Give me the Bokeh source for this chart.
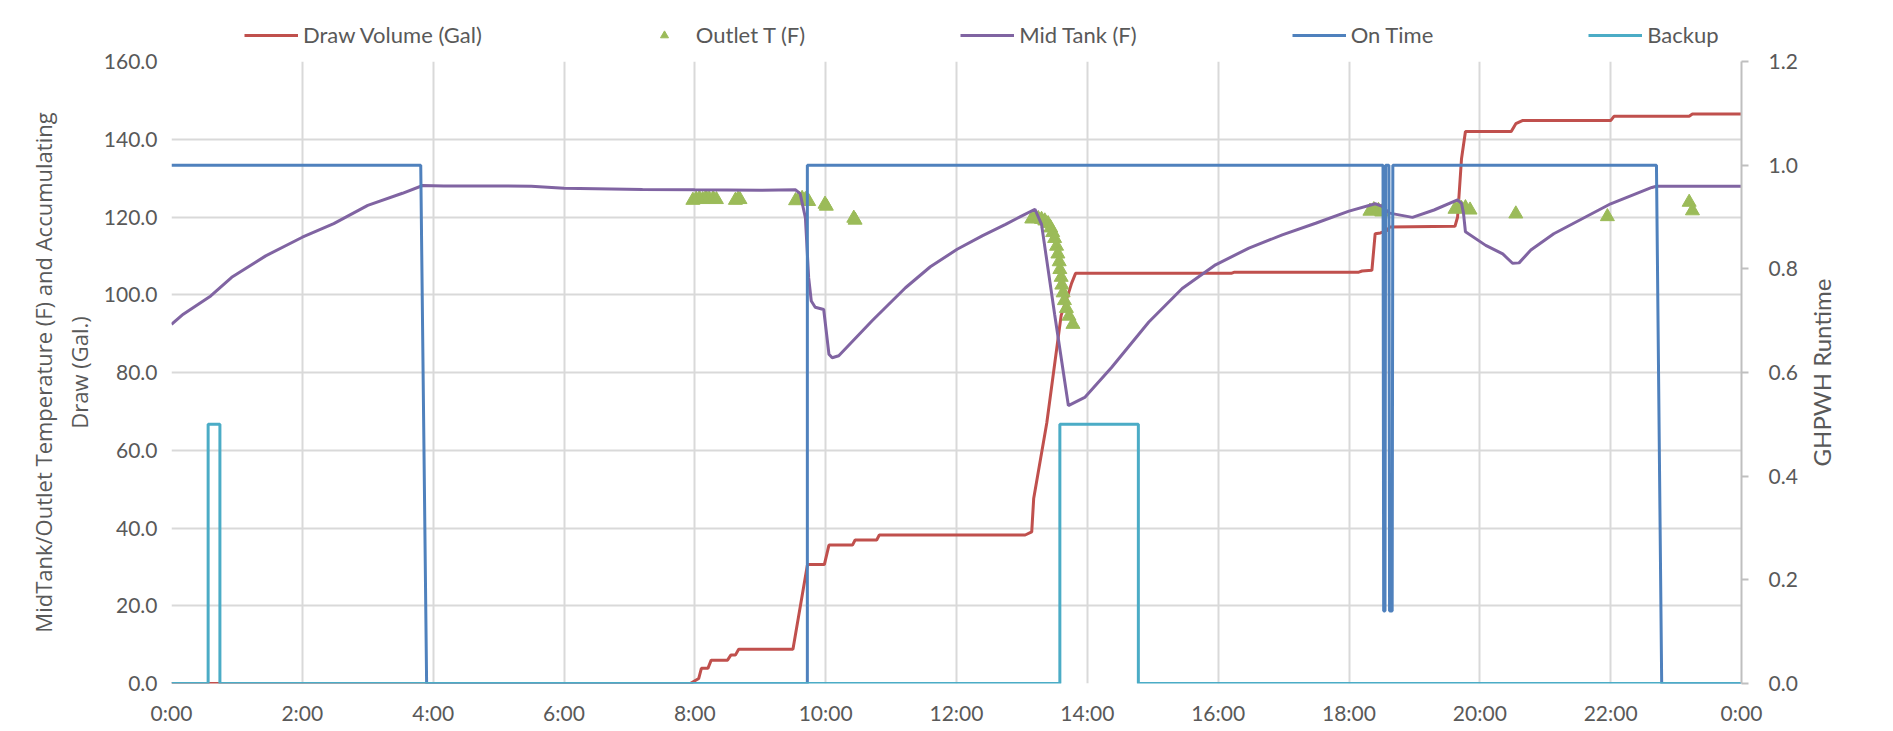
from bokeh.plotting import figure
from bokeh.layouts import column, row
from bokeh.models import (Range1d, LinearAxis, FixedTicker, NumeralTickFormatter,
                          Legend, LegendItem)
from bokeh.embed import file_html
from bokeh.resources import INLINE

# ---------------- data (hours of day) ----------------
draw_t = [0, 7.93, 8.06, 8.1, 8.2, 8.25, 8.5, 8.55, 8.62, 8.67, 9.5, 9.72, 9.74, 9.98,
          10.05, 10.41, 10.45, 10.78, 10.82, 13.05, 13.15, 13.18, 13.38, 13.6, 13.71,
          13.76, 13.82, 16.2, 16.25, 18.15, 18.2, 18.35, 18.4, 18.48, 18.58, 18.62,
          19.62, 19.66, 19.72, 19.78, 20.48, 20.55, 20.65, 22.0, 22.05, 23.2, 23.25, 24.0]
draw_v = [0, 0, 1.3, 3.9, 3.9, 6.0, 6.0, 7.3, 7.3, 8.8, 8.8, 30.4, 30.6, 30.6,
          35.6, 35.6, 36.9, 36.9, 38.2, 38.2, 39.0, 47.6, 67.0, 94.7, 100.3,
          103.0, 105.5, 105.5, 105.8, 105.8, 106.1, 106.3, 115.7, 115.9, 116.5, 117.4,
          117.6, 120.0, 135.0, 142.0, 142.0, 144.0, 144.8, 144.8, 145.9, 145.9, 146.5, 146.5]

outlet_t = [7.97, 8.02, 8.07, 8.12, 8.17, 8.22, 8.28, 8.33, 8.62, 8.66, 8.69,
            9.54, 9.59, 9.64, 9.69, 9.74, 9.99, 10.01, 10.43, 10.45,
            13.15, 13.2, 13.25, 13.3, 13.35, 13.4, 13.44, 13.47, 13.5, 13.53, 13.55,
            13.57, 13.58, 13.6, 13.61, 13.63, 13.65, 13.68, 13.72, 13.78,
            18.32, 18.38, 18.45, 18.5, 19.62, 19.68, 19.72, 19.78, 19.85,
            20.55, 21.95, 23.2, 23.25]
outlet_v = [124.3, 124.6, 124.8, 124.5, 125.0, 124.7, 124.8, 124.5, 124.3, 124.6, 124.5,
            124.2, 124.6, 124.8, 124.5, 124.0, 123.3, 122.8, 119.7, 119.2,
            119.5, 119.8, 119.6, 119.4, 119.0, 118.3, 117.2, 116.0, 114.5, 112.5, 110.5,
            108.5, 106.5, 104.5, 102.5, 100.5, 98.5, 96.5, 94.5, 92.4,
            121.5, 121.9, 121.7, 121.3, 122.0, 122.6, 122.2, 122.4, 121.8,
            120.8, 120.1, 123.8, 121.6]

mid_t = [0, 0.18, 0.6, 0.92, 1.44, 2.0, 2.48, 3.0, 3.53, 3.84, 4.16, 5.0, 5.5, 6.0,
         7.2, 8.0, 9.0, 9.54, 9.61, 9.69, 9.74, 9.78, 9.84, 9.97, 10.05, 10.1, 10.2,
         10.71, 11.22, 11.6, 12.01, 12.4, 12.75, 13.0, 13.2, 13.3, 13.5, 13.71, 13.96,
         14.37, 14.94, 15.45, 15.96, 16.47, 16.98, 17.49, 18.0, 18.4, 18.5, 18.62,
         18.97, 19.3, 19.66, 19.72, 19.75, 19.78, 20.09, 20.35, 20.5, 20.6, 20.78,
         21.13, 22.0, 22.63, 22.7, 24.0]
mid_v = [92.4, 95.0, 99.7, 104.5, 110.0, 114.8, 118.3, 123.0, 126.1, 128.1, 128.0, 128.0,
         127.9, 127.4, 127.1, 127.0, 126.9, 127.0, 126.0, 119.8, 104.4, 98.4, 96.8, 96.2,
         84.7, 83.8, 84.3, 93.3, 101.8, 107.2, 111.7, 115.2, 118.1, 120.3, 122.0, 118.1,
         95.0, 71.5, 73.6, 81.3, 93.0, 101.6, 107.7, 112.0, 115.4, 118.4, 121.5, 123.4,
         122.8, 121.0, 119.9, 121.8, 124.4, 123.5, 121.0, 116.2, 112.7, 110.5, 108.1,
         108.2, 111.5, 115.7, 123.4, 127.6, 127.9, 127.9]

on_t = [0, 3.81, 3.9, 9.72, 9.72, 18.52, 18.53, 18.55, 18.56, 18.61, 18.62, 18.66,
        18.67, 22.7, 22.78, 24.0]
on_v = [1, 1, 0, 0, 1, 1, 0.14, 0.14, 1, 1, 0.14, 0.14, 1, 1, 0, 0]

backup_t = [0, 0.56, 0.56, 0.74, 0.74, 13.58, 13.58, 14.78, 14.78, 24.0]
backup_v = [0, 0, 0.5, 0.5, 0, 0, 0.5, 0.5, 0, 0]

x_ticks = [0, 2, 4, 6, 8, 10, 12, 14, 16, 18, 20, 22, 24]
x_tick_labels = ["0:00", "2:00", "4:00", "6:00", "8:00", "10:00", "12:00", "14:00",
                 "16:00", "18:00", "20:00", "22:00", "0:00"]
y_ticks = [0, 20, 40, 60, 80, 100, 120, 140, 160]
rt_ticks = [0, 0.2, 0.4, 0.6, 0.8, 1.0, 1.2]

labels = ["Draw Volume (Gal)", "Outlet T (F)", "Mid Tank (F)", "On Time", "Backup"]
colors = ["#C0504D", "#9BBB59", "#8064A2", "#4F81BD", "#4BACC6"]
y_title_1 = "MidTank/Outlet Temperature (F) and Accumulating"
y_title_2 = "Draw (Gal.)"
y2_title = "GHPWH Runtime"

TICK_COLOR = "#595959"
GRID = "#D9D9D9"
W = 1877
LEG_H = 48
MAIN_H = 681
MAIN_W = 1801
STRIP_W = W - MAIN_W


def bare_axis(ax):
    ax.axis_line_color = None
    ax.major_tick_line_color = None
    ax.minor_tick_line_color = None
    ax.major_tick_out = 0
    ax.major_tick_in = 0
    ax.minor_tick_out = 0
    ax.minor_tick_in = 0


def style_title(ax, font, size):
    ax.axis_label_text_font = font
    ax.axis_label_text_font_size = size
    ax.axis_label_text_font_style = "normal"
    ax.axis_label_text_color = TICK_COLOR
    ax.axis_label_text_line_height = 1.0


# ---------------- main figure ----------------
p = figure(width=MAIN_W, height=MAIN_H, output_backend="svg", toolbar_location=None,
           x_range=Range1d(0, 24), y_range=Range1d(0, 160),
           min_border_left=171, min_border_right=60, min_border_top=13,
           min_border_bottom=46)
p.extra_y_ranges = {"rt": Range1d(0, 1.2)}
p.outline_line_color = None
p.background_fill_color = "white"
p.border_fill_color = "white"

p.xaxis.ticker = FixedTicker(ticks=x_ticks)
p.xaxis.major_label_overrides = {float(t): l for t, l in zip(x_ticks, x_tick_labels)}
p.yaxis.ticker = FixedTicker(ticks=y_ticks)
p.yaxis.formatter = NumeralTickFormatter(format="0.0")
for ax in [p.xaxis[0], p.yaxis[0]]:
    bare_axis(ax)
    ax.major_label_text_font = "Lato"
    ax.major_label_text_font_size = "21px"
    ax.major_label_text_color = TICK_COLOR
p.xaxis.major_label_standoff = 16
p.yaxis.major_label_standoff = 14

# inner title line (next to the tick labels)
p.yaxis.axis_label = y_title_2
style_title(p.yaxis[0], "Open Sans", "22px")
p.yaxis.axis_label_standoff = 7

# outer title line: a label-only axis
outer = LinearAxis(ticker=FixedTicker(ticks=[]), axis_label=y_title_1)
bare_axis(outer)
outer.major_label_standoff = 0
outer.major_label_text_font_size = "0px"
style_title(outer, "Open Sans", "22px")
outer.axis_label_standoff = 3
p.add_layout(outer, "left")

rax = LinearAxis(y_range_name="rt", ticker=FixedTicker(ticks=rt_ticks),
                 formatter=NumeralTickFormatter(format="0.0"))
rax.axis_line_color = "#BFBFBF"
rax.axis_line_width = 2
rax.major_tick_line_color = "#BFBFBF"
rax.major_tick_line_width = 2
rax.major_tick_in = 0
rax.major_tick_out = 7
rax.minor_tick_line_color = None
rax.minor_tick_out = 0
rax.minor_tick_in = 0
rax.major_label_text_font = "Lato"
rax.major_label_text_font_size = "21px"
rax.major_label_text_color = TICK_COLOR
rax.major_label_standoff = 20
p.add_layout(rax, "right")

p.xgrid.ticker = FixedTicker(ticks=x_ticks)
p.ygrid.ticker = FixedTicker(ticks=y_ticks)
for g in [p.xgrid[0], p.ygrid[0]]:
    g.grid_line_color = GRID
    g.grid_line_width = 2

p.line(draw_t, draw_v, line_color=colors[0], line_width=3)
p.scatter(outlet_t, outlet_v, marker="triangle", size=14,
          fill_color=colors[1], line_color=colors[1])
p.line(mid_t, mid_v, line_color=colors[2], line_width=3)
p.line(on_t, on_v, line_color=colors[3], line_width=3, y_range_name="rt")
p.line(backup_t, backup_v, line_color=colors[4], line_width=3, y_range_name="rt")

# ---------------- right title strip (reads bottom-to-top like the original) -------
strip = figure(width=STRIP_W, height=MAIN_H, output_backend="svg",
               toolbar_location=None, x_range=Range1d(0, 1), y_range=Range1d(0, 1.2),
               min_border_left=34, min_border_right=0, min_border_top=13,
               min_border_bottom=46, x_axis_location=None, y_axis_location=None)
strip.grid.visible = False
strip.outline_line_color = None
strip.background_fill_color = "white"
strip.border_fill_color = "white"
tax = LinearAxis(ticker=FixedTicker(ticks=[]), axis_label=y2_title)
bare_axis(tax)
tax.major_label_standoff = 0
tax.major_label_text_font_size = "0px"
style_title(tax, "Lato", "24px")
tax.axis_label_standoff = 0
strip.add_layout(tax, "left")

# ---------------- legend strip (above the chart) ----------------
# the same series, drawn into a strip whose ranges keep them out of view,
# so that only their legend entries show
lf = figure(width=W, height=LEG_H, output_backend="svg", toolbar_location=None,
            x_range=Range1d(0, 24), y_range=Range1d(1000, 1001), min_border=0,
            x_axis_location=None, y_axis_location=None)
lf.grid.visible = False
lf.outline_line_color = None
lf.background_fill_color = "white"
lf.border_fill_color = "white"
k_draw = lf.line(draw_t, draw_v, line_color=colors[0], line_width=3)
k_out = lf.scatter(outlet_t, outlet_v, marker="triangle", size=14,
                   fill_color=colors[1], line_color=colors[1])
k_mid = lf.line(mid_t, mid_v, line_color=colors[2], line_width=3)
k_on = lf.line(on_t, on_v, line_color=colors[3], line_width=3)
k_bk = lf.line(backup_t, backup_v, line_color=colors[4], line_width=3)
legend = Legend(items=[LegendItem(label=lab, renderers=[r]) for lab, r in
                       zip(labels, [k_draw, k_out, k_mid, k_on, k_bk])],
                location=(244, 0), orientation="horizontal", spacing=155,
                glyph_width=54, glyph_height=20, label_standoff=5, padding=0,
                margin=0, label_height=20, border_line_alpha=0,
                background_fill_alpha=0, label_text_font="Lato",
                label_text_font_size="22px", label_text_color=TICK_COLOR)
lf.add_layout(legend)

layout = column(lf, row(p, strip, spacing=0), spacing=0)
open("out.html", "w").write(file_html(layout, INLINE))
